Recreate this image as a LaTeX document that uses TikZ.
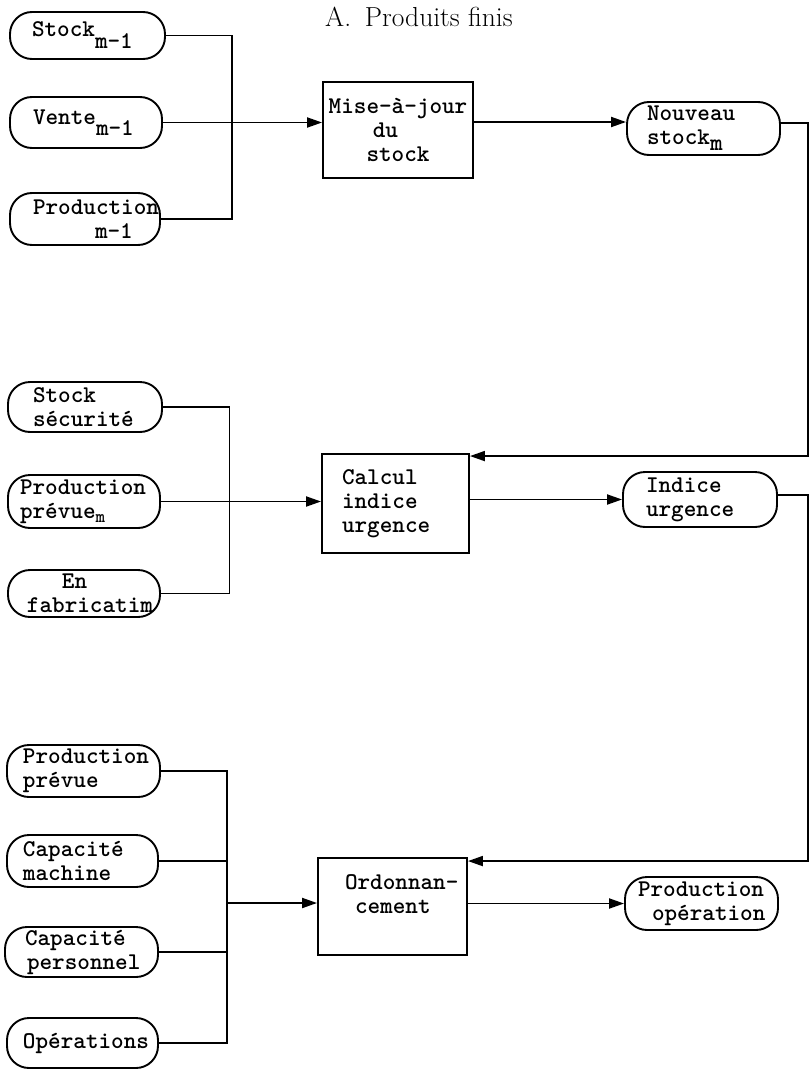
\documentclass[tikz,border=0pt]{standalone}
\usetikzlibrary{arrows.meta}
\newcommand\lowsub[2][12pt]{\raisebox{-#1}{#2}}
\newcommand\monoset[1]{\ttfamily\bfseries\fontsize{24}{#1}\selectfont\hyphenpenalty=10000 \exhyphenpenalty=10000 }
\begin{document}
\begin{tikzpicture}[x=1pt,y=-1pt,
  term/.style={draw, line width=1.9pt, rounded corners=22pt, inner xsep=0pt, inner ysep=0pt, align=left, font=\monoset{24}},
  proc/.style={draw, line width=1.9pt, inner xsep=0pt, inner ysep=0pt, align=left, font=\monoset{24}},
  wire/.style={line width=1.9pt},
  flow/.style={wire, -{Triangle[length=15pt,width=10pt]}},
]
\useasboundingbox (0,0) rectangle (810,1070);

% title
\node[anchor=base west, inner sep=0pt, font=\fontsize{27.5}{30}\selectfont] (title) at (325,27) {A.\hspace{0.5em}Produits finis};

% --- stock update ---
\node[term, minimum width=155pt, minimum height=47pt, text width=111pt] (stockA) at (87.5,35.5) {Stock\lowsub{m-1}};
\node[term, minimum width=152pt, minimum height=51pt, text width=106pt] (vente) at (86,122.5) {Vente\lowsub[11pt]{m-1}};
\node[term, minimum width=150pt, minimum height=52pt, text width=104pt] (prodA) at (85,219) {Production\\\hspace*{62pt}m-1};
\node[proc, minimum width=150pt, minimum height=96pt, text width=146pt, align=center] (maj) at (398,130) {Mise-à-jour\\du\hphantom{xx}\\stock};
\node[term, minimum width=153pt, minimum height=53pt, text width=113pt] (nouv) at (703.5,128.5) {Nouveau\\stock\lowsub[6pt]{m}};

% --- urgency index ---
\node[term, minimum width=154pt, minimum height=50pt, text width=104pt] (secu) at (85,407) {Stock\\sécurité};
\node[term, minimum width=152pt, minimum height=53pt, text width=128pt] (prevm) at (84,501.5) {Production\\prévue\lowsub[4pt]{\fontsize{18}{18}\selectfont m}};
\node[term, minimum width=152pt, minimum height=47pt, text width=114pt] (enfab) at (84,593.5) {\hspace*{35pt}En\\fabricatim};
\node[proc, minimum width=147pt, minimum height=99pt, text width=107pt] (calc) at (395.5,503.5) {Calcul\\indice\\urgence};
\node[term, minimum width=154pt, minimum height=55pt, text width=108pt] (indice) at (700,499.5) {Indice\\urgence};

% --- scheduling ---
\node[term, minimum width=153pt, minimum height=52pt, text width=121pt] (prevA) at (83.5,771) {Production\\prévue};
\node[term, minimum width=151pt, minimum height=52pt, text width=119pt] (capm) at (82.5,861) {Capacité\\machine};
\node[term, minimum width=153pt, minimum height=50pt, text width=113pt] (capp) at (81.5,952) {Capacité\\\hspace*{2pt}personnel};
\node[term, minimum width=151pt, minimum height=50pt, text width=119pt] (ops) at (82.5,1043) {Opérations};
\node[proc, minimum width=149pt, minimum height=97pt, text width=95pt] (ordo) at (392.5,906.5) {Ordonnan-\\\hspace*{10pt}cement\\[0pt]\mbox{}};
\node[term, minimum width=153pt, minimum height=53pt, text width=127pt] (prodop) at (701.5,903.5) {Production\\\hspace*{14pt}opération};

% --- connectors: stock update ---
\coordinate (busA1) at (232,35.5);
\coordinate (busA3) at (232,219);
\draw[wire] (stockA.east) -- (busA1) -- (busA3) -- (prodA.east);
\draw[flow] (vente.east) -- (vente.east -| maj.west);
\draw[flow] ([yshift=8pt]maj.east) -- ([yshift=8pt]maj.east -| nouv.west);
\coordinate (retA) at (808,300);
\draw[flow] ([yshift=5.5pt]nouv.east) -| (retA) |- ([yshift=-3pt]calc.north east);

% --- connectors: urgency index ---
\coordinate (busB1) at (229.5,407);
\coordinate (busB3) at (229.5,593.5);
\draw[wire] (secu.east) -- (busB1) -- (busB3) -- (enfab.east);
\draw[flow] (prevm.east) -- (prevm.east -| calc.west);
\draw[flow] (calc.east |- indice.west) -- (indice.west);
\coordinate (retB) at (808,700);
\draw[flow] ([yshift=4.5pt]indice.east) -| (retB) |- ([yshift=-4pt]ordo.north east);

% --- connectors: scheduling ---
\coordinate (busC1) at (227,771);
\coordinate (busC4) at (227,1043);
\draw[wire] (prevA.east) -- (busC1) -- (busC4) -- (ops.east);
\draw[wire] (capm.east) -- (capm.east -| busC1);
\draw[wire] (capp.east) -- (capp.east -| busC1);
\coordinate (busCout) at (227,903);
\draw[flow] (busCout) -- (busCout -| ordo.west);
\draw[flow] (ordo.east |- prodop.west) -- (prodop.west);
\end{tikzpicture}
\end{document}
